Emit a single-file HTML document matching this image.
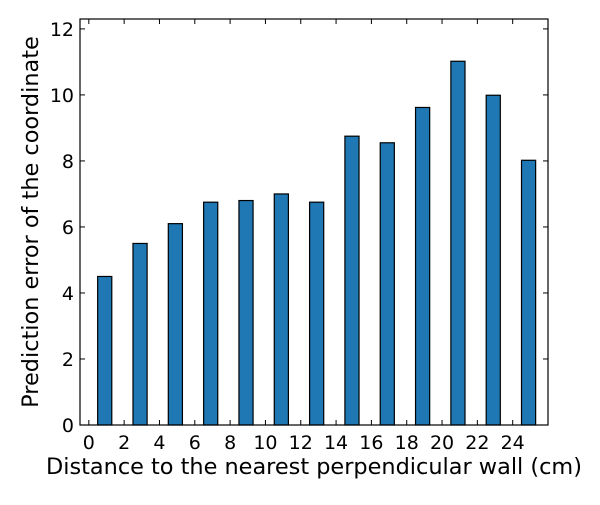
<!DOCTYPE html>
<html><head><meta charset="utf-8"><style>
body{margin:0;background:#fff;}
svg text{font-family:"DejaVu Sans","Liberation Sans",sans-serif;font-size:19px;fill:#000;}
svg text.title{font-size:22.4px;}
</style></head><body>
<svg id="chart" width="600" height="500">
<g id="bars"></g>
<g id="axes"></g>
<text class="title" x="314" y="474" text-anchor="middle">Distance to the nearest perpendicular wall (cm)</text>
<text class="title" transform="translate(38,222) rotate(-90)" text-anchor="middle">Prediction error of the coordinate</text>
</svg>
<script>
const categories=[1,3,5,7,9,11,13,15,17,19,21,23,25];
const values=[4.5,5.5,6.1,6.75,6.8,7.0,6.75,8.75,8.55,9.62,11.02,9.99,8.02];
const xTicks=[0,2,4,6,8,10,12,14,16,18,20,22,24];
const yTicks=[0,2,4,6,8,10,12];
const L=80,R=548,T=19,B=425;
const xMin=-0.5,xMax=26,yMin=0,yMax=12.3;
const xs=v=>L+(v-xMin)/(xMax-xMin)*(R-L);
const ys=v=>B-(v-yMin)/(yMax-yMin)*(B-T);
const NS="http://www.w3.org/2000/svg";
const bars=document.getElementById('bars'),axes=document.getElementById('axes');
function mk(p,tag,a){const e=document.createElementNS(NS,tag);for(const k in a)e.setAttribute(k,a[k]);p.appendChild(e);return e;}
categories.forEach((c,i)=>{
 const x0=xs(c-0.5),x1=xs(c+0.3);
 const r=mk(bars,'rect',{x:x0,y:ys(values[i]),width:x1-x0,height:ys(0)-ys(values[i]),fill:'#1f77b4',stroke:'#000','stroke-width':1.2});
 
 
});
const frame=mk(axes,'rect',{x:L,y:T,width:R-L,height:B-T,fill:'none',stroke:'#000','stroke-width':1.2});


xTicks.forEach(t=>{
 const x=xs(t);
 mk(axes,'line',{x1:x,x2:x,y1:B,y2:B-5,stroke:'#000'});
 mk(axes,'line',{x1:x,x2:x,y1:T,y2:T+5,stroke:'#000'});
 const tx=mk(axes,'text',{x:x,y:B+24,'text-anchor':'middle'});tx.textContent=t;
 
 
});
yTicks.forEach(t=>{
 const y=ys(t);
 mk(axes,'line',{x1:L,x2:L+5,y1:y,y2:y,stroke:'#000'});
 mk(axes,'line',{x1:R,x2:R-5,y1:y,y2:y,stroke:'#000'});
 const tx=mk(axes,'text',{x:L-6,y:y+7,'text-anchor':'end'});tx.textContent=t;
 
 
});
</script>
</body></html>
